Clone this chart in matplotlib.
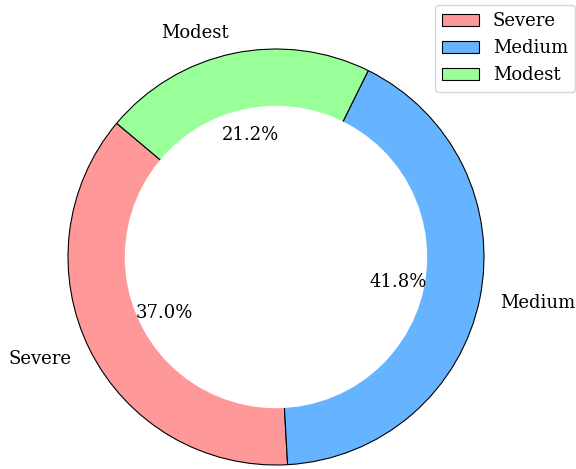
import matplotlib
matplotlib.use("Agg")
import matplotlib.pyplot as plt

# データ
labels = ["Severe", "Medium", "Modest"]
sizes = [37.0, 41.8, 21.2]
colors = ["#ff9999", "#66b3ff", "#99ff99"]

plt.rcParams["font.family"] = "DejaVu Serif"
plt.rcParams["font.size"] = 13

fig = plt.figure(figsize=(5.76, 4.69), dpi=100)
ax = fig.add_axes([0, 0, 1, 1])

wedges, texts, autotexts = ax.pie(sizes, labels=labels, colors=colors,
                                  autopct="%1.1f%%", startangle=140,
                                  wedgeprops={"edgecolor": "black", "linewidth": 0.8})
# 中央の白い円でドーナツにする
centre = plt.Circle((0, 0), 0.727, fc="white")
ax.add_artist(centre)

ax.set_xlim(-276 / 208, 300 / 208)
ax.set_ylim(-212 / 208, 257 / 208)
ax.axis("off")

ax.legend(wedges, labels, loc="upper right", bbox_to_anchor=(0.999, 0.989),
          borderaxespad=0)

fig.savefig("out.png", dpi=100)
